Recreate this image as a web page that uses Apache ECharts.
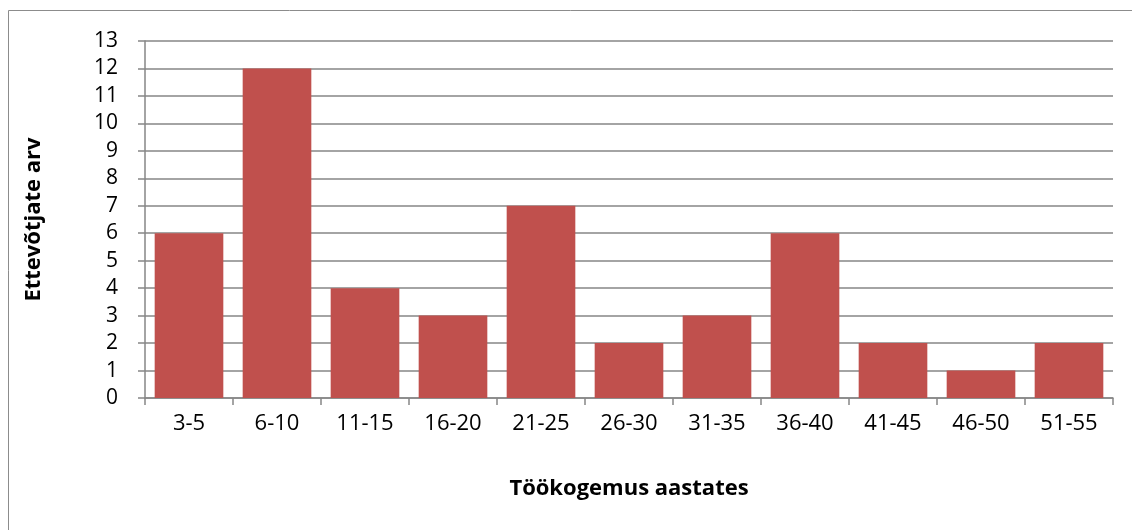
<!DOCTYPE html>
<html>
<head>
<meta charset="utf-8">
<script src="https://cdn.jsdelivr.net/npm/echarts@6/dist/echarts.min.js"></script>
<style>
html,body{margin:0;padding:0;background:#fff;}
#chart{width:1132px;height:530px;}
</style>
</head>
<body>
<div id="chart"></div>
<script>
const categories = ['3-5','6-10','11-15','16-20','21-25','26-30','31-35','36-40','41-45','46-50','51-55'];
const values = [6,12,4,3,7,2,3,6,2,1,2];
const yTicks = {min:0, max:13, interval:1};
const xTitle = 'Töökogemus aastates';
const yTitle = 'Ettevõtjate arv';

const chart = echarts.init(document.getElementById('chart'));
const font = '"Open Sans", sans-serif';
chart.setOption({
  animation:false,
  backgroundColor:'#fff',
  graphic:[
    {type:'line', shape:{x1:8.5,y1:530,x2:8.5,y2:10.5}, style:{stroke:'#8c8c8c',lineWidth:1}},
    {type:'line', shape:{x1:8.5,y1:10.5,x2:1132,y2:10.5}, style:{stroke:'#8c8c8c',lineWidth:1}}
  ],
  grid:{left:145,right:19,top:41,bottom:132,containLabel:false},
  xAxis:{
    type:'category',
    data:categories,
    name:xTitle,
    nameLocation:'middle',
    nameGap:80,
    nameTextStyle:{fontFamily:font,fontSize:22,fontWeight:'bold',color:'#000'},
    axisLine:{lineStyle:{color:'#868686',width:1.5}},
    axisTick:{show:true,length:7,lineStyle:{color:'#868686',width:1.5}},
    axisLabel:{fontFamily:font,fontSize:22,color:'#000',margin:15,interval:0}
  },
  yAxis:{
    type:'value',
    min:yTicks.min,max:yTicks.max,interval:yTicks.interval,
    name:yTitle,
    nameLocation:'middle',
    nameGap:100,
    nameRotate:90,
    nameTextStyle:{fontFamily:font,fontSize:22,fontWeight:'bold',color:'#000'},
    axisLine:{show:true,lineStyle:{color:'#868686',width:1.5}},
    axisTick:{show:true,length:7,lineStyle:{color:'#868686',width:1.5}},
    axisLabel:{fontFamily:font,fontSize:21,color:'#000',margin:27},
    splitLine:{show:true,lineStyle:{color:'#868686',width:1.5}}
  },
  series:[{
    type:'bar',
    data:values,
    barCategoryGap:'22%',
    itemStyle:{color:'#C0504D'}
  }]
});
</script>
</body>
</html>
